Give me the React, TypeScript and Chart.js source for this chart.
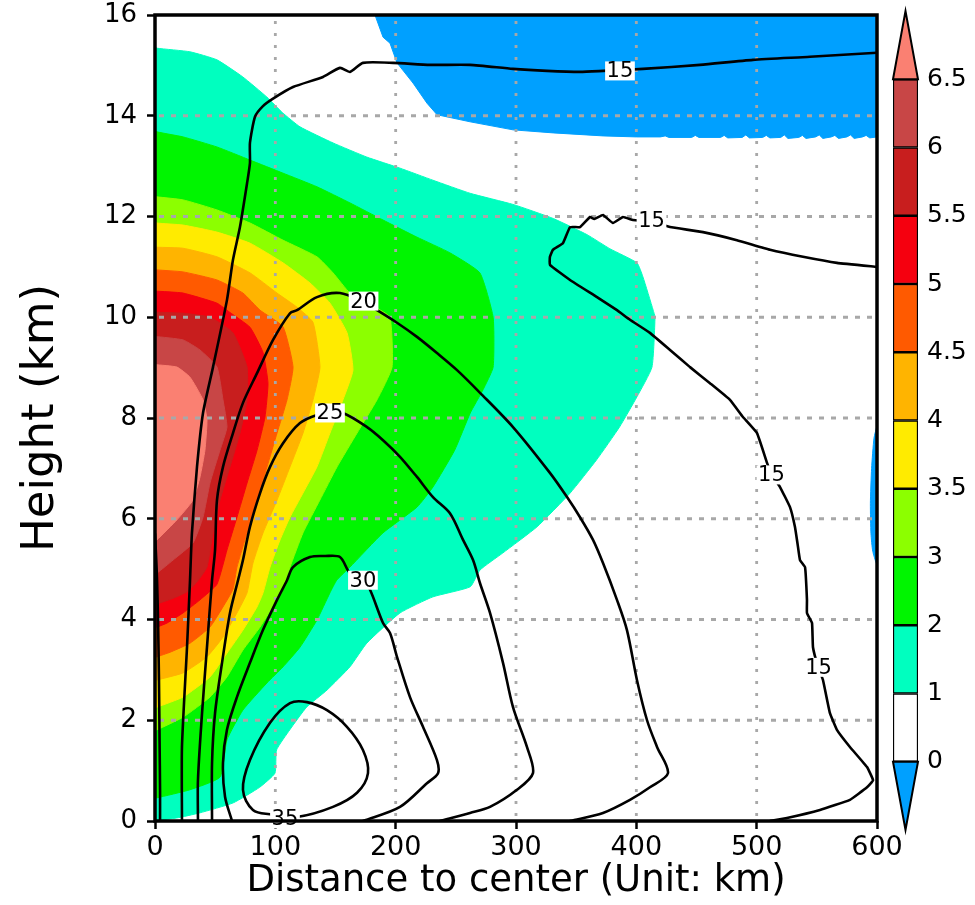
import React, { useEffect, useRef } from 'react';
import { Chart, registerables } from 'chart.js';

Chart.register(...registerables);

const FONT = 'DejaVu Sans';

// ---- axes ----
const xTicks = [0, 100, 200, 300, 400, 500, 600];
const yTicks = [0, 2, 4, 6, 8, 10, 12, 14, 16];
const xTitle = 'Distance to center (Unit: km)';
const yTitle = 'Height (km)';

// ---- colour levels (colorbar) ----
const levelLabels = ['0', '1', '2', '3', '3.5', '4', '4.5', '5', '5.5', '6', '6.5'];
const bandColors = ['#FFFFFF', '#00FFBF', '#00F500', '#8CFF00', '#FFEB00', '#FFB400', '#FF5A00', '#F5000F', '#C81E1E', '#C84646'];
const overColor = '#FA8072';
const underColor = '#00A0FF';

// ---- filled regions [distance km, height km] ----
const regionGe1 = [[0,15.36],[1.7,15.34],[29,15.27],[51.5,15.11],[73,14.77],[93,14.37],[106,14.06],[120.5,13.78],[148,13.46],[176,13.18],[203.6,12.96],[231,12.72],[262,12.46],[297.5,12.24],[331,11.96],[359,11.64],[378,11.36],[400.5,11.08],[405.5,10.8],[414,10.14],[415.5,10.0],[413,9.01],[400.5,8.42],[386,7.82],[367,7.17],[345,6.51],[317.5,5.84],[289,5.32],[270,4.98],[262,4.65],[231,4.45],[203.6,4.13],[176,3.53],[162,3.06],[143,2.6],[126,2.26],[112,1.81],[101,1.41],[99.7,0.95],[87,0.67],[65,0.36],[37,0.16],[18,0.06],[0,0.02],[0,15.36]];
const regionGe2 = [[0,13.72],[1.7,13.68],[23.3,13.58],[51.5,13.38],[79,13.12],[106.4,12.86],[134.6,12.59],[162,12.27],[189.5,11.93],[217.7,11.59],[245,11.28],[270,10.88],[281,10.0],[281,9.01],[272.6,8.56],[262,8.1],[249,7.36],[231,6.63],[217.7,6.23],[189.5,5.72],[162,5.04],[151,4.78],[145.4,4.53],[134.6,3.99],[120.5,3.45],[106.4,3.06],[93,2.74],[73,2.2],[59.8,1.61],[54,0.87],[29,0.62],[1.7,0.46],[0,0.46],[0,13.72]];
const regionGe3 = [[0,12.4],[1.7,12.39],[23.3,12.33],[51.5,12.13],[79,11.87],[106.4,11.53],[134.6,11.2],[148,10.88],[162,10.48],[183,10.2],[195.3,10.0],[197,9.01],[184.5,8.36],[167.9,7.7],[151.3,7.03],[137,6.37],[123,5.72],[112.2,5.04],[106.4,4.6],[101.4,4.39],[87.3,3.85],[73,3.39],[59.8,2.86],[45.7,2.46],[23.3,2.06],[1.7,1.81],[0,1.8],[0,12.4]];
const regionGe35 = [[0,11.9],[1.7,11.87],[23.3,11.83],[51.5,11.69],[79,11.47],[106.4,11.08],[128.8,10.68],[145.4,10.28],[159.6,9.69],[164.5,8.95],[156.2,8.36],[145.4,7.7],[134.6,7.03],[123,6.51],[112.2,6.03],[103.9,5.58],[95.6,5.04],[89.8,4.53],[84.8,4.25],[73.1,3.79],[59.8,3.33],[45.7,2.86],[23.3,2.46],[1.7,2.26],[0,2.25],[0,11.9]];
const regionGe4 = [[0,11.4],[1.7,11.39],[23.3,11.37],[51.5,11.2],[79,10.88],[101.4,10.48],[118,10.2],[131.3,9.9],[137.1,9.01],[131.3,8.36],[123,7.7],[112.2,7.03],[101.4,6.37],[89.8,5.72],[81.4,5.12],[76.5,4.53],[68.1,4.13],[56.5,3.65],[43.2,3.26],[23.3,2.94],[1.7,2.8],[0,2.8],[0,11.4]];
const regionGe45 = [[0,10.95],[1.7,10.94],[23.3,10.9],[51.5,10.74],[73.1,10.48],[87.3,10.14],[106.4,9.81],[114.7,9.01],[109.7,8.36],[101.4,7.7],[93.1,7.03],[84.8,6.37],[76.5,5.72],[68.1,5.04],[64.8,4.6],[56.5,4.25],[45.7,3.85],[29.1,3.53],[12.5,3.35],[1.7,3.26],[0,3.25],[0,10.95]];
const regionGe5 = [[0,10.52],[23.3,10.48],[51.5,10.28],[62,10.1],[79,9.8],[89.8,9.3],[93.9,8.69],[91.4,8.02],[84.8,7.36],[76.5,6.71],[68.1,6.03],[59.8,5.38],[51.5,4.7],[37.4,4.39],[23.3,4.13],[10,3.93],[1.7,3.85],[0,3.85],[0,10.52]];
const regionGe55 = [[0,10.1],[23.3,10.08],[45.7,10.0],[64.8,9.69],[76.5,9.01],[76.5,8.36],[70.6,7.7],[62.3,7.03],[54,6.37],[48.2,5.72],[43.2,5.04],[35,4.75],[26.6,4.55],[15,4.42],[4.2,4.33],[0,4.3],[0,10.1]];
const regionGe6 = [[0,9.62],[23.3,9.55],[37.4,9.35],[51.5,9.01],[56.5,8.36],[59.8,7.82],[54,7.36],[45.7,6.71],[39.9,6.03],[31.6,5.52],[15,5.18],[1.7,4.92],[0,4.9],[0,9.62]];
const regionGe65 = [[0,9.06],[18.3,9.01],[29.1,8.81],[39.9,8.36],[43.2,7.96],[41.5,7.36],[37.4,6.83],[31.6,6.37],[18.3,5.98],[1.7,5.58],[0,5.55],[0,9.06]];
const regionNegTop = [[182.8,16],[189.5,15.56],[195.3,15.44],[201.1,15.05],[214.4,14.65],[226,14.25],[234.4,14.02],[261.8,13.88],[297.5,13.72],[330.8,13.66],[372.3,13.6],[400,13.58],[420,13.58],[424,13.6],[427,13.57],[446,13.57],[449,13.61],[452,13.57],[470,13.57],[473,13.61],[476,13.56],[488,13.57],[491,13.62],[494,13.56],[505,13.57],[508,13.61],[511,13.56],[520,13.57],[523,13.62],[526,13.55],[535,13.57],[538,13.61],[541,13.55],[549,13.58],[552,13.62],[555,13.55],[562,13.58],[565,13.61],[568,13.55],[575,13.58],[578,13.62],[581,13.55],[588,13.58],[591,13.61],[594,13.56],[600,13.58],[600,16],[182.8,16]];
const regionNegRight = [[600,7.85],[597.5,7.6],[595.5,7.0],[594.5,6.3],[595,5.7],[596.5,5.35],[600,5.1],[600,7.85]];

// ---- contour lines ----
const contour10 = [[0,5.7],[1.0,5.2],[1.7,4.78],[2.5,4.0],[3.3,2.8],[3.8,1.6],[4.2,0.6],[4.2,0]];
const contour15a = [[22.4,0],[22.4,1.47],[26.6,3.45],[29.1,4.78],[30.7,5.72],[34.9,7.03],[39.9,8.1],[48.2,9.01],[59.8,10.34],[64.8,11.14],[70.6,11.79],[76.5,12.66],[78.9,13.06],[78.9,13.46],[83.1,13.98],[89.7,14.19],[98.1,14.34],[114.7,14.57],[139.6,14.77],[153.7,14.95],[162,14.87],[172.8,15.05],[197.8,15.05],[228.5,15.01],[261.8,15.01],[297.5,14.93],[325.8,14.89],[353.2,14.87],[372.3,14.89],[405.5,14.93],[452.9,15.01],[496.9,15.11],[544.3,15.17],[600,15.25]];
const contour15b = [[600,11.0],[566.7,11.08],[538.5,11.2],[511.1,11.34],[483.6,11.53],[455.4,11.69],[428,11.79],[413,11.89],[397.2,11.93],[388.9,11.99],[380.6,11.87],[372.3,12.03],[365,11.95],[361.5,11.99],[353.2,11.79],[344.9,11.79],[339,11.47],[330.7,11.34],[328.2,11.2],[328.2,11.04],[344.9,10.74],[367.3,10.4],[383.9,10.14],[394.7,9.95],[411.3,9.69],[428,9.35],[444.6,9.01],[461.2,8.69],[477.8,8.36],[488.6,8.02],[500.3,7.7],[508.6,7.11],[512.7,6.87],[519.4,6.63],[527.7,6.23],[531.8,5.84],[534,5.5],[536,5.18],[540.2,5.04],[541.8,4.39],[541.8,4.13],[546,3.93],[546.8,3.45],[551,3.06],[555.1,2.8],[560.9,2.14],[566.7,1.81],[577.5,1.47],[591.7,1.07],[596.7,0.81],[591.7,0.67],[577.5,0.42],[552.6,0.22],[525.2,0.06],[511.1,0]];
const contour20 = [[35.7,0],[35.7,0.81],[39.1,2.14],[43.2,3.45],[47.4,4.78],[49.9,5.38],[51.5,6.37],[56.5,7.03],[64.8,7.7],[73.1,8.3],[84.8,8.89],[98.1,9.55],[112.2,10.08],[118,10.14],[134.6,10.4],[153.7,10.48],[173,10.3],[184.5,10.14],[201.1,9.89],[217.7,9.61],[234.3,9.29],[251,8.95],[270.1,8.5],[297.5,7.82],[328.2,6.91],[342.4,6.43],[353.2,6.03],[364,5.58],[372.3,5.12],[383.9,4.39],[392.2,3.79],[400.5,2.8],[408.9,2.0],[417.2,1.47],[426.3,0.95],[411.3,0.67],[394.7,0.42],[372.3,0.16],[344.9,0]];
const contour25 = [[47.4,0],[47.4,1.15],[49.9,2.14],[55.7,3.14],[62.3,4.13],[69,4.78],[73.1,5.18],[78.9,5.84],[87.3,6.51],[95.6,7.03],[106.4,7.5],[120.5,7.9],[134.6,8.06],[145.4,8.1],[156.2,8.1],[176.2,7.82],[189.5,7.56],[203.6,7.23],[217.7,6.83],[231,6.43],[245.1,6.11],[256,5.58],[264.3,5.18],[270.1,4.72],[278.4,4.13],[289.2,3.14],[297.5,2.26],[309.1,1.47],[314.1,0.95],[300.8,0.62],[278.4,0.28],[261.8,0.16],[236.8,0]];
const contour30 = [[64,0],[58.2,0.48],[56.5,1.15],[59.8,1.81],[68.1,2.46],[78.9,3.14],[89.7,3.79],[101.4,4.39],[109.7,4.78],[114.7,5.04],[128.8,5.24],[141.3,5.26],[153.7,5.24],[162,4.92],[173,4.78],[178.7,4.59],[189.5,3.93],[195.3,3.73],[201.1,3.26],[211.9,2.46],[222.7,1.87],[234.3,1.21],[235.2,0.95],[226,0.75],[203.6,0.28],[172.8,0]];
const contour35 = [[98.1,0.12],[118,0.08],[147.9,0.28],[167.9,0.56],[177,0.95],[172.8,1.41],[159.5,1.87],[142.9,2.2],[126.3,2.36],[112.2,2.34],[95.6,1.95],[78.9,1.21],[73.1,0.62],[81.4,0.22],[98.1,0.12]];

// ---- contour labels ----
const labelTexts = ['15', '15', '15', '15', '20', '25', '30', '35'];
const labelX = [386.4, 412.6, 512.3, 551.4, 173.3, 145.4, 172.8, 108];
const labelY = [14.89, 11.91, 6.87, 3.05, 10.32, 8.1, 4.78, 0.04];

const toPts = (a: number[][]) => a.map(([x, y]) => ({ x, y }));

const fillDefs: { data: number[][]; color: string; tension: number }[] = [
  { data: regionGe1, color: bandColors[1], tension: 0.15 },
  { data: regionGe2, color: bandColors[2], tension: 0.15 },
  { data: regionGe3, color: bandColors[3], tension: 0.15 },
  { data: regionGe35, color: bandColors[4], tension: 0.15 },
  { data: regionGe4, color: bandColors[5], tension: 0.15 },
  { data: regionGe45, color: bandColors[6], tension: 0.15 },
  { data: regionGe5, color: bandColors[7], tension: 0.15 },
  { data: regionGe55, color: bandColors[8], tension: 0.15 },
  { data: regionGe6, color: bandColors[9], tension: 0.15 },
  { data: regionGe65, color: overColor, tension: 0.15 },
  { data: regionNegTop, color: underColor, tension: 0 },
  { data: regionNegRight, color: underColor, tension: 0.2 },
];
const contourDefs: { data: number[][]; tension: number }[] = [
  { data: contour10, tension: 0.3 },
  { data: contour15a, tension: 0.2 },
  { data: contour15b, tension: 0.1 },
  { data: contour20, tension: 0.3 },
  { data: contour25, tension: 0.3 },
  { data: contour30, tension: 0.3 },
  { data: contour35, tension: 0.35 },
];

const LAST_FILL = fillDefs.length - 1;

const zeroScalePadding = (s: any) => {
  s.paddingTop = 0;
  s.paddingBottom = 0;
  s.paddingLeft = 0;
  s.paddingRight = 0;
};

const gridOverFills = {
  id: 'gridOverFills',
  afterDatasetDraw(chart: any, args: any) {
    if (args.index !== LAST_FILL) return;
    const { ctx, chartArea: a, scales } = chart;
    ctx.save();
    ctx.strokeStyle = '#A8A8A8';
    ctx.lineWidth = 2.8;
    ctx.setLineDash([3, 9]);
    xTicks.slice(1, -1).forEach((v) => {
      const px = scales.x.getPixelForValue(v);
      ctx.beginPath();
      ctx.moveTo(px, a.top + 6);
      ctx.lineTo(px, a.bottom);
      ctx.stroke();
    });
    ctx.setLineDash([5, 7]);
    yTicks.slice(1, -1).forEach((v) => {
      const py = scales.y.getPixelForValue(v);
      ctx.beginPath();
      ctx.moveTo(a.left + 4, py);
      ctx.lineTo(a.right, py);
      ctx.stroke();
    });
    ctx.restore();
  },
};

const contourLabelPlugin = {
  id: 'contourLabels',
  afterDatasetsDraw(chart: any) {
    const { ctx, scales } = chart;
    ctx.save();
    ctx.font = `21px "${FONT}"`;
    ctx.textAlign = 'center';
    ctx.textBaseline = 'middle';
    labelTexts.forEach((t, i) => {
      const px = scales.x.getPixelForValue(labelX[i]);
      const py = scales.y.getPixelForValue(labelY[i]);
      const w = ctx.measureText(t).width + 3;
      ctx.fillStyle = '#FFFFFF';
      ctx.fillRect(px - w / 2, py - 9.5, w, 19);
      ctx.fillStyle = '#000000';
      ctx.fillText(t, px, py + 1);
    });
    ctx.restore();
  },
};

const framePlugin = {
  id: 'frame',
  afterDatasetsDraw(chart: any) {
    const { ctx, chartArea: a } = chart;
    ctx.save();
    ctx.strokeStyle = '#000000';
    ctx.lineWidth = 3.5;
    ctx.strokeRect(a.left, a.top, a.right - a.left, a.bottom - a.top);
    ctx.restore();
  },
};

const colorbarEnds = {
  id: 'colorbarEnds',
  afterDatasetsDraw(chart: any) {
    const { ctx, chartArea: a, scales } = chart;
    const y = scales.y;
    const mid = (a.left + a.right) / 2;
    const tri = (base: number, tip: number, color: string) => {
      ctx.beginPath();
      ctx.moveTo(a.left, y.getPixelForValue(base));
      ctx.lineTo(mid, y.getPixelForValue(tip));
      ctx.lineTo(a.right, y.getPixelForValue(base));
      ctx.closePath();
      ctx.fillStyle = color;
      ctx.fill();
      ctx.stroke();
    };
    ctx.save();
    ctx.strokeStyle = '#000000';
    ctx.lineWidth = 2;
    ctx.lineJoin = 'miter';
    tri(bandColors.length, bandColors.length + 1, overColor);
    tri(0, -1, underColor);
    ctx.restore();
  },
};

export default function App() {
  const mainRef = useRef<HTMLCanvasElement>(null);
  const barRef = useRef<HTMLCanvasElement>(null);

  useEffect(() => {
    document.body.style.margin = '0';
    const datasets: any[] = [];
    fillDefs.forEach((f, k) => {
      datasets.push({
        data: toPts(f.data),
        showLine: true,
        fill: 'shape',
        backgroundColor: f.color,
        borderColor: f.color,
        borderWidth: 1,
        pointRadius: 0,
        tension: f.tension,
        order: -k,
      });
    });
    contourDefs.forEach((c, j) => {
      datasets.push({
        data: toPts(c.data),
        showLine: true,
        fill: false,
        borderColor: '#000000',
        borderWidth: 2.6,
        borderJoinStyle: 'round',
        borderCapStyle: 'round',
        pointRadius: 0,
        tension: c.tension,
        order: -(fillDefs.length + j),
      });
    });

    const main = new Chart(mainRef.current as HTMLCanvasElement, {
      type: 'scatter',
      data: { datasets },
      options: {
        responsive: false,
        animation: false,
        devicePixelRatio: 1,
        layout: { autoPadding: false, padding: { left: 0, top: 15, right: 98, bottom: 0 } },
        plugins: { legend: { display: false }, tooltip: { enabled: false } },
        scales: {
          x: {
            type: 'linear',
            min: 0,
            max: 600,
            afterBuildTicks: (s: any) => { s.ticks = xTicks.map((v) => ({ value: v })); },
            afterFit: (s: any) => { s.height = 84; zeroScalePadding(s); },
            grid: { display: true, drawOnChartArea: false, drawTicks: true, tickLength: 8, tickWidth: 2.5, tickColor: '#000000', color: '#000000' },
            border: { display: false },
            ticks: { color: '#000000', font: { family: FONT, size: 27 }, padding: 3, maxRotation: 0, autoSkip: false },
            title: { display: true, text: xTitle, color: '#000000', font: { family: FONT, size: 37 }, padding: { top: 0, bottom: 1 } },
          },
          y: {
            type: 'linear',
            min: 0,
            max: 16,
            afterBuildTicks: (s: any) => { s.ticks = yTicks.map((v) => ({ value: v })); },
            afterFit: (s: any) => { s.width = 155; zeroScalePadding(s); },
            grid: { display: true, drawOnChartArea: false, drawTicks: true, tickLength: 8, tickWidth: 2.5, tickColor: '#000000', color: '#000000' },
            border: { display: false },
            ticks: { color: '#000000', font: { family: FONT, size: 26 }, padding: 10, autoSkip: false },
            title: { display: true, text: yTitle, color: '#000000', font: { family: FONT, size: 45 }, padding: { top: 14, bottom: 0 } },
          },
        },
      },
      plugins: [gridOverFills, contourLabelPlugin, framePlugin],
    } as any);

    const bar = new Chart(barRef.current as HTMLCanvasElement, {
      type: 'bar',
      data: {
        labels: ['cb'],
        datasets: bandColors.map((c) => ({
          data: [1],
          backgroundColor: c,
          borderColor: '#000000',
          borderWidth: 1.5,
          borderSkipped: false,
          barPercentage: 1,
          categoryPercentage: 1,
          stack: 'cb',
        })),
      },
      options: {
        responsive: false,
        animation: false,
        devicePixelRatio: 1,
        layout: { autoPadding: false, padding: { left: 13, top: 11, right: 0, bottom: 75 } },
        plugins: { legend: { display: false }, tooltip: { enabled: false } },
        scales: {
          x: { display: false, stacked: true },
          y: {
            stacked: true,
            position: 'right',
            min: -1,
            max: bandColors.length + 1,
            afterBuildTicks: (s: any) => { s.ticks = levelLabels.map((_, i) => ({ value: i })); },
            afterFit: (s: any) => { s.width = 57; zeroScalePadding(s); },
            grid: { display: false, drawTicks: false },
            border: { display: false },
            ticks: {
              color: '#000000',
              font: { family: FONT, size: 25 },
              padding: 9,
              autoSkip: false,
              callback: (_v: any, i: number) => levelLabels[i],
            },
          },
        },
      },
      plugins: [colorbarEnds],
    } as any);

    return () => {
      main.destroy();
      bar.destroy();
    };
  }, []);

  return (
    <div style={{ position: 'relative', width: 975, height: 905 }}>
      <canvas ref={mainRef} width={975} height={905} style={{ position: 'absolute', left: 0, top: 0, width: 975, height: 905 }} />
      <canvas ref={barRef} width={95} height={905} style={{ position: 'absolute', left: 880, top: 0, width: 95, height: 905 }} />
    </div>
  );
}
